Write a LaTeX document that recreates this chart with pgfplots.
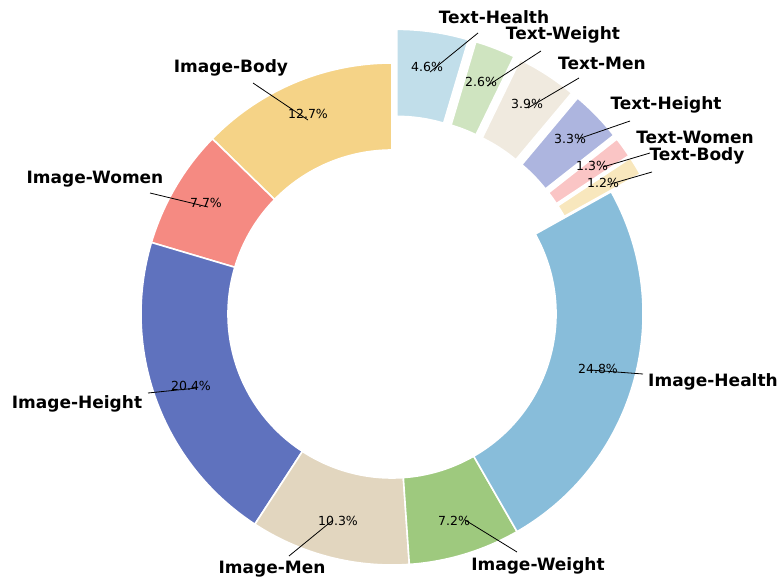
\documentclass[border=0pt]{standalone}
\usepackage{pgfplots}
\pgfplotsset{compat=1.18}
\usepackage{fontspec}
\setmainfont{DejaVu Sans}

\definecolor{cImgBody}{HTML}{F5D387}
\definecolor{cImgWomen}{HTML}{F58A82}
\definecolor{cImgHeight}{HTML}{5F72BE}
\definecolor{cImgMen}{HTML}{E2D6BF}
\definecolor{cImgWeight}{HTML}{9EC97E}
\definecolor{cImgHealth}{HTML}{88BDDA}
\definecolor{cTxtBody}{HTML}{F8E7BD}
\definecolor{cTxtWomen}{HTML}{FAC5C5}
\definecolor{cTxtHeight}{HTML}{ADB5DF}
\definecolor{cTxtMen}{HTML}{F0EADF}
\definecolor{cTxtWeight}{HTML}{CFE4C0}
\definecolor{cTxtHealth}{HTML}{C1DEEA}

% #1 cumulative start (%), #2 share (%), #3 colour, #4 explode offset
\newcommand{\donutwedge}[4]{%
  \fill[fill=#3, draw=white, line width=1.6pt]
    (axis cs:392,268) ++({90+3.6*(#1+#2/2)}:#4pt)
    ++({90+3.6*(#1)}:164pt)
    arc[start angle={90+3.6*(#1)}, end angle={90+3.6*(#1+#2)}, radius=164pt]
    -- ++({90+3.6*(#1+#2)}:87pt)
    arc[start angle={90+3.6*(#1+#2)}, end angle={90+3.6*(#1)}, radius=251pt]
    -- cycle;}

\begin{document}
\begin{tikzpicture}
\begin{axis}[
  scale only axis, width=782pt, height=582pt,
  xmin=0, xmax=782, ymin=0, ymax=582,
  hide axis, clip=false,
]
\path (axis cs:0,0) rectangle (axis cs:782,582);
% wedges: start, share, colour, explode
\donutwedge{0}{12.7}{cImgBody}{0}
\donutwedge{12.7}{7.7}{cImgWomen}{0}
\donutwedge{20.4}{20.4}{cImgHeight}{0}
\donutwedge{40.8}{10.3}{cImgMen}{0}
\donutwedge{51.1}{7.2}{cImgWeight}{0}
\donutwedge{58.3}{24.8}{cImgHealth}{0}
\donutwedge{83.1}{1.2}{cTxtBody}{34}
\donutwedge{84.3}{1.3}{cTxtWomen}{34}
\donutwedge{85.6}{3.3}{cTxtHeight}{34}
\donutwedge{88.9}{3.9}{cTxtMen}{34}
\donutwedge{92.8}{2.6}{cTxtWeight}{34}
\donutwedge{95.4}{4.6}{cTxtHealth}{34}

% percentage labels
\begin{scope}[every node/.style={font=\fontsize{12.5}{14}\selectfont, inner sep=0pt}]
\node at (axis cs:308,468) {12.7\%};
\node at (axis cs:206,379) {7.7\%};
\node at (axis cs:191,196) {20.4\%};
\node at (axis cs:338,61) {10.3\%};
\node at (axis cs:454,61) {7.2\%};
\node at (axis cs:598,213) {24.8\%};
\node at (axis cs:603,399) {1.2\%};
\node at (axis cs:592,416) {1.3\%};
\node at (axis cs:570,443) {3.3\%};
\node at (axis cs:527,478) {3.9\%};
\node at (axis cs:481,500) {2.6\%};
\node at (axis cs:427,515) {4.6\%};
\end{scope}

% category labels
\begin{scope}[every node/.style={font=\bfseries\fontsize{17}{19}\selectfont, inner sep=0pt}]
\node at (axis cs:231,514) {Image-Body};
\node at (axis cs:95,403) {Image-Women};
\node at (axis cs:77,178) {Image-Height};
\node at (axis cs:272,13) {Image-Men};
\node at (axis cs:538,16) {Image-Weight};
\node at (axis cs:713,200) {Image-Health};
\node at (axis cs:697,426) {Text-Body};
\node at (axis cs:695,445) {Text-Women};
\node at (axis cs:666,477) {Text-Height};
\node at (axis cs:602,519) {Text-Men};
\node at (axis cs:563,547) {Text-Weight};
\node at (axis cs:494,565) {Text-Health};
\end{scope}

% leader lines
\begin{scope}[line width=0.8pt, black]
\draw (axis cs:253,499) -- (axis cs:308,462);
\draw (axis cs:150,389) -- (axis cs:208,375);
\draw (axis cs:148,189) -- (axis cs:197,194);
\draw (axis cs:289,26) -- (axis cs:333,62);
\draw (axis cs:517,30) -- (axis cs:465,62);
\draw (axis cs:643,208) -- (axis cs:590,212);
\draw (axis cs:478,549) -- (axis cs:430,510);
\draw (axis cs:541,531) -- (axis cs:487,496);
\draw (axis cs:579,504) -- (axis cs:528,474);
\draw (axis cs:630,461) -- (axis cs:578,443);
\draw (axis cs:650,429) -- (axis cs:603,415);
\draw (axis cs:652,410) -- (axis cs:607,397);
\end{scope}
\end{axis}
\end{tikzpicture}
\end{document}
